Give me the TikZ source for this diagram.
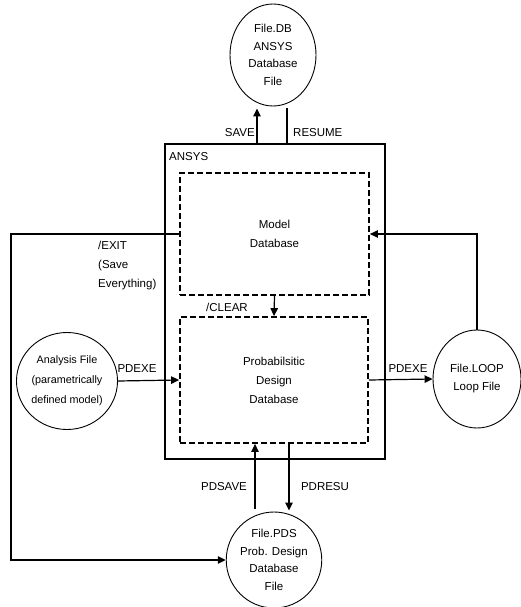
\documentclass[tikz,border=0pt]{standalone}
\usepackage{fontspec}
\setmainfont{Liberation Sans}
\usetikzlibrary{shapes.geometric,arrows.meta}
\begin{document}
\begin{tikzpicture}[x=1pt,y=-1pt,
  txt/.style={font=\fontsize{11.5}{18}\selectfont, inner sep=0pt},
  filecirc/.style={draw, ellipse, line width=0.9pt, inner sep=0pt, align=center, font=\fontsize{11.5}{17.5}\selectfont},
  dbbox/.style={draw, line width=1.8pt, dash pattern=on 6pt off 3pt, align=center, font=\fontsize{11.5}{19}\selectfont},
  outer/.style={draw, line width=1.2pt},
  conn/.style={line width=1.2pt},
  arr/.style={conn, -{Triangle[length=8pt,width=7.5pt]}}
]
\useasboundingbox[fill=white] (0,0) rectangle (520,607);

% ANSYS outer box
\node[outer, minimum width=220pt, minimum height=315pt, inner sep=0pt] (ansys) at (275,301.5) {};
\node[txt, anchor=west] (ansyslbl) at (169,157) {ANSYS};

% dashed databases
\node[dbbox, minimum width=189pt, minimum height=122pt] (model) at (274.5,234) {Model\\Database};
\node[dbbox, minimum width=188pt, minimum height=126pt] (pdd) at (274,380) {Probabilsitic\\Design\\Database};

% file circles
\node[filecirc, minimum width=86pt, minimum height=102pt] (db) at (273,55) {File.DB\\ANSYS\\Database\\File};
\node[filecirc, minimum width=86pt, minimum height=97pt, font=\fontsize{10.8}{20}\selectfont] (analysis) at (67,381) {Analysis File\\(parametrically\\defined model)};
\node[filecirc, minimum width=88pt, minimum height=98pt, font=\fontsize{11.5}{18}\selectfont] (loop) at (477,379) {File.LOOP\\Loop File};
\node[filecirc, minimum width=90pt, minimum height=96pt] (pds) at (274,560) {File.PDS\\Prob. Design\\Database\\File};

% helper x positions
\coordinate (sx) at (257,0);
\coordinate (rx) at (287,0);
\coordinate (psx) at (255,0);
\coordinate (prx) at (289,0);
\coordinate (ex) at (11,0);

% SAVE / RESUME
\draw[arr] (sx |- ansys.north) -- ([yshift=-2pt]sx |- db.south);
\draw[conn] ([yshift=-2pt]rx |- db.south) -- (rx |- ansys.north);
\node[txt, anchor=east] (savelbl) at (255,133) {SAVE};
\node[txt, anchor=west] (resumelbl) at (293,133) {RESUME};

% CLEAR
\draw[arr] (model.south) -- (pdd.north);
\node[txt, anchor=west] (clearlbl) at (206,307) {/CLEAR};

% LOOP back to model
\draw[arr] (loop.north) |- (model.east);

% PDEXE right
\draw[arr] (pdd.east) -- (loop.west);
\node[txt] (pdexer) at (408,369) {PDEXE};

% PDEXE left
\draw[arr] (analysis.east) -- (pdd.west);
\node[txt] (pdexel) at (137,369) {PDEXE};

% EXIT
\draw[arr] (model.west) -- (model.west -| ex) |- (pds.west);
\node[txt, anchor=north west, align=left, font=\fontsize{11.5}{19}\selectfont] (exitlbl) at (98,241) {/EXIT\\(Save\\Everything)};

% PDSAVE / PDRESU
\draw[arr] ([yshift=3pt]psx |- pds.north) -- (psx |- pdd.south);
\draw[arr] (prx |- pdd.south) -- ([yshift=1pt]prx |- pds.north);
\node[txt] (pdsavelbl) at (224,487) {PDSAVE};
\node[txt] (pdresulbl) at (325,487) {PDRESU};
\end{tikzpicture}
\end{document}
